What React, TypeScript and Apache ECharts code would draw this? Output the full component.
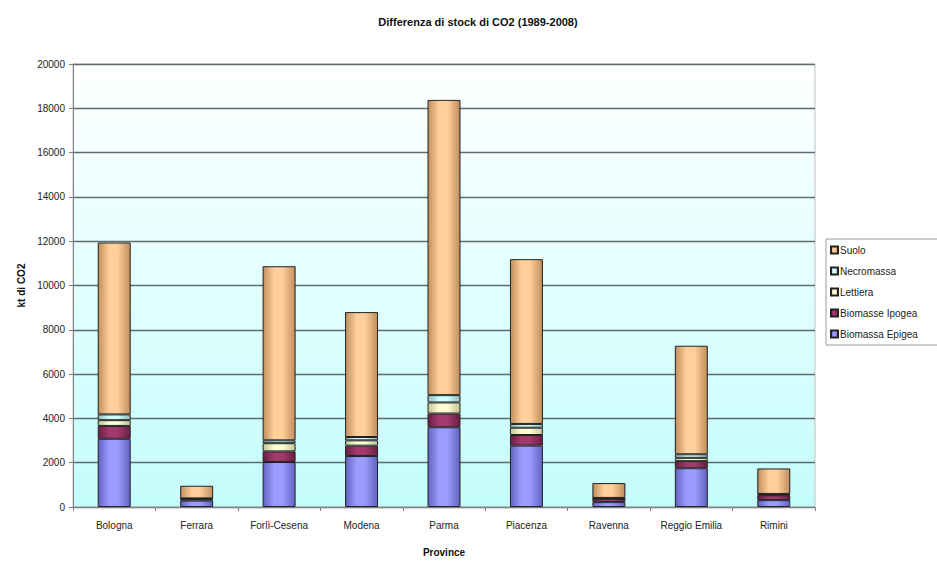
import React, { useEffect, useRef } from "react";
import * as echarts from "echarts";

const categories = ["Bologna", "Ferrara", "Forlì-Cesena", "Modena", "Parma", "Piacenza", "Ravenna", "Reggio Emilia", "Rimini"];
const biomassaEpigea = [3080, 290, 2030, 2300, 3600, 2770, 220, 1750, 310];
const biomasseIpogea = [580, 60, 480, 470, 620, 480, 150, 320, 220];
const lettiera = [260, 20, 370, 240, 500, 330, 20, 150, 30];
const necromassa = [260, 20, 130, 150, 330, 170, 20, 160, 30];
const suolo = [7760, 570, 7860, 5640, 13330, 7440, 670, 4900, 1150];
const yTicks = [0, 2000, 4000, 6000, 8000, 10000, 12000, 14000, 16000, 18000, 20000];

const grad = (dark: string, light: string) => ({
  type: "linear",
  x: 0, y: 0, x2: 1, y2: 0,
  colorStops: [
    { offset: 0, color: dark },
    { offset: 0.35, color: light },
    { offset: 0.6, color: light },
    { offset: 1, color: dark },
  ],
});

const seriesDefs = [
  { name: "Biomassa Epigea", data: biomassaEpigea, light: "#9c9cff", dark: "#6262c0", solid: "#9999ff" },
  { name: "Biomasse Ipogea", data: biomasseIpogea, light: "#a33a6e", dark: "#6a1f45", solid: "#993366" },
  { name: "Lettiera", data: lettiera, light: "#ffffd2", dark: "#c4c49a", solid: "#ffffcc" },
  { name: "Necromassa", data: necromassa, light: "#d2ffff", dark: "#8fbcbc", solid: "#ccffff" },
  { name: "Suolo", data: suolo, light: "#ffcf9c", dark: "#c08f5e", solid: "#ffcc99" },
];

export default function App() {
  const ref = useRef<HTMLDivElement>(null);
  useEffect(() => {
    document.body.style.margin = "0";
    const chart = echarts.init(ref.current!, null, { renderer: "svg" });
    chart.setOption({
      animation: false,
      backgroundColor: "#ffffff",
      textStyle: { fontFamily: "Liberation Sans, Arial, sans-serif" },
      title: {
        text: "Differenza di stock di CO2 (1989-2008)",
        left: 473,
        textAlign: "center",
        top: 11,
        textStyle: { fontSize: 11, fontWeight: "bold", color: "#111" },
      },
      legend: {
        orient: "vertical",
        left: 826,
        top: 239,
        data: ["Suolo", "Necromassa", "Lettiera", "Biomasse Ipogea", "Biomassa Epigea"],
        icon: "rect",
        itemWidth: 7,
        itemHeight: 7,
        itemGap: 9,
        padding: [5, 40, 5, 4],
        borderColor: "#9a9a9a",
        borderWidth: 1,
        textStyle: { fontSize: 10, lineHeight: 12, color: "#222", padding: [0, 0, 0, -3] },
      },
      grid: {
        left: 73,
        right: 122,
        top: 64,
        bottom: 44,
        show: true,
        borderColor: "#c0c0c0",
        borderWidth: 1,
        backgroundColor: {
          type: "linear",
          x: 0, y: 0, x2: 0, y2: 1,
          colorStops: [
            { offset: 0, color: "#ffffff" },
            { offset: 0.5, color: "#e2ffff" },
            { offset: 1, color: "#c4fcfc" },
          ],
        },
      },
      xAxis: {
        type: "category",
        data: categories,
        name: "Province",
        nameLocation: "middle",
        nameGap: 40,
        nameTextStyle: { fontSize: 10, fontWeight: "bold", color: "#111" },
        axisLine: { lineStyle: { color: "#808080" } },
        axisTick: { show: true, alignWithLabel: false, length: 4, lineStyle: { color: "#808080" } },
        axisLabel: { fontSize: 10, color: "#222", margin: 13, interval: 0 },
      },
      yAxis: {
        type: "value",
        min: 0,
        max: 20000,
        interval: 2000,
        name: "kt di CO2",
        nameLocation: "middle",
        nameGap: 33,
        nameTextStyle: { fontSize: 10, fontWeight: "bold", color: "#111" },
        axisLine: { show: true, lineStyle: { color: "#808080" } },
        axisTick: { show: true, length: 4, lineStyle: { color: "#808080" } },
        axisLabel: {
          fontSize: 10,
          color: "#222",
          margin: 8,
          formatter: (v: number) => (yTicks.includes(v) ? String(v) : ""),
        },
        splitLine: { show: true, lineStyle: { color: "#5e6c6c", width: 1.4 } },
      },
      series: seriesDefs.map((s) => ({
        name: s.name,
        type: "bar",
        stack: "total",
        barWidth: "40%",
        data: s.data,
        color: s.solid,
        itemStyle: {
          color: grad(s.dark, s.light),
          borderColor: "#222222",
          borderWidth: 1,
        },
      })),
    });
    return () => chart.dispose();
  }, []);
  return <div ref={ref} style={{ width: 937, height: 562 }} />;
}
